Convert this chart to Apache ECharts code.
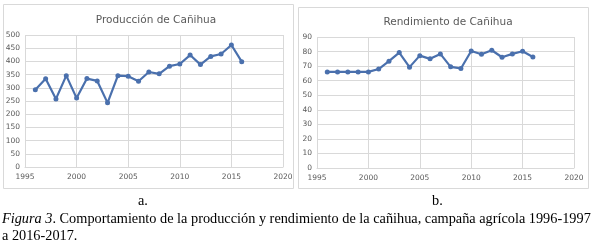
<!DOCTYPE html>
<html>
<head>
<meta charset="utf-8">
<script src="https://cdn.jsdelivr.net/npm/echarts@6/dist/echarts.min.js"></script>
<style>
  html, body { margin: 0; padding: 0; background: #fff; }
  #chart { width: 594px; height: 247px; }
</style>
</head>
<body>
<div id="chart"></div>
<script>
// datos
var years = [1996, 1997, 1998, 1999, 2000, 2001, 2002, 2003, 2004, 2005, 2006,
             2007, 2008, 2009, 2010, 2011, 2012, 2013, 2014, 2015, 2016];
var produccion = [293, 334, 258, 346, 261, 335, 326, 243, 346, 344, 325,
                  360, 353, 382, 390, 424, 388, 419, 428, 462, 399];
var rendimiento = [66, 66, 66, 66, 66, 68, 73.4, 79.3, 69.3, 77.2, 75,
                   78.4, 69.5, 68.4, 80.4, 78.1, 80.9, 76.1, 78.4, 80.2, 76.3];

var lineColor = '#4a70ad';
var gridColor = '#d9d9d9';
var labelColor = '#595959';

function pairs(vals) {
    return years.map(function (y, i) { return [y, vals[i]]; });
}

var chart = echarts.init(document.getElementById('chart'));

function xAxisCfg(idx) {
    return {
        type: 'value', gridIndex: idx, min: 1995, max: 2020, interval: 5,
        axisLine: { show: true, lineStyle: { color: gridColor } },
        axisTick: { show: false },
        splitLine: { show: true, lineStyle: { color: gridColor, width: 1 } },
        axisLabel: { color: labelColor, fontSize: 7.5, fontFamily: 'DejaVu Sans', margin: 6,
                     formatter: function (v) { return String(v); } }
    };
}

function yAxisCfg(idx, max, step) {
    return {
        type: 'value', gridIndex: idx, min: 0, max: max, interval: step,
        axisLine: { show: false },
        axisTick: { show: false },
        splitLine: { show: true, lineStyle: { color: gridColor, width: 1 } },
        axisLabel: { color: labelColor, fontSize: 7.5, fontFamily: 'DejaVu Sans', margin: 5 }
    };
}

function lineSeries(idx, vals) {
    return {
        type: 'line', xAxisIndex: idx, yAxisIndex: idx,
        data: pairs(vals),
        symbol: 'circle', symbolSize: 5,
        lineStyle: { color: lineColor, width: 2.2 },
        itemStyle: { color: lineColor },
        silent: true, animation: false
    };
}

var serif = '14.3px "Liberation Serif"';

var option = {
    animation: false,
    title: [
        { text: 'Producción de Cañihua', left: 151, top: 10, textAlign: 'center',
          textStyle: { fontSize: 10.5, fontWeight: 'normal', color: labelColor, fontFamily: 'DejaVu Sans' } },
        { text: 'Rendimiento de Cañihua', left: 443, top: 12, textAlign: 'center',
          textStyle: { fontSize: 10.5, fontWeight: 'normal', color: labelColor, fontFamily: 'DejaVu Sans' } }
    ],
    grid: [
        { left: 25, right: 311, top: 35, bottom: 80 },
        { left: 317, right: 20, top: 37, bottom: 79 }
    ],
    xAxis: [xAxisCfg(0), xAxisCfg(1)],
    yAxis: [yAxisCfg(0, 500, 50), yAxisCfg(1, 90, 10)],
    series: [lineSeries(0, produccion), lineSeries(1, rendimiento)],
    graphic: [
        { type: 'rect', shape: { x: 3.5, y: 4.5, width: 290, height: 184 },
          style: { fill: 'none', stroke: '#d9d9d9', lineWidth: 1 }, z: -1 },
        { type: 'rect', shape: { x: 298.5, y: 7.5, width: 290, height: 181 },
          style: { fill: 'none', stroke: '#d9d9d9', lineWidth: 1 }, z: -1 },
        { type: 'text', left: 138, top: 194,
          style: { text: 'a.', font: serif, fill: '#000' } },
        { type: 'text', left: 432, top: 194,
          style: { text: 'b.', font: serif, fill: '#000' } },
        { type: 'text', left: 2, top: 212,
          style: { text: '{i|Figura 3}. Comportamiento de la producción y rendimiento de la cañihua, campaña agrícola 1996-1997',
                   font: serif, fill: '#000',
                   rich: { i: { fontStyle: 'italic', fontFamily: 'Liberation Serif', fontSize: 14.3, fill: '#000' } } } },
        { type: 'text', left: 2, top: 229,
          style: { text: 'a 2016-2017.', font: serif, fill: '#000' } }
    ]
};

chart.setOption(option);
</script>
</body>
</html>
